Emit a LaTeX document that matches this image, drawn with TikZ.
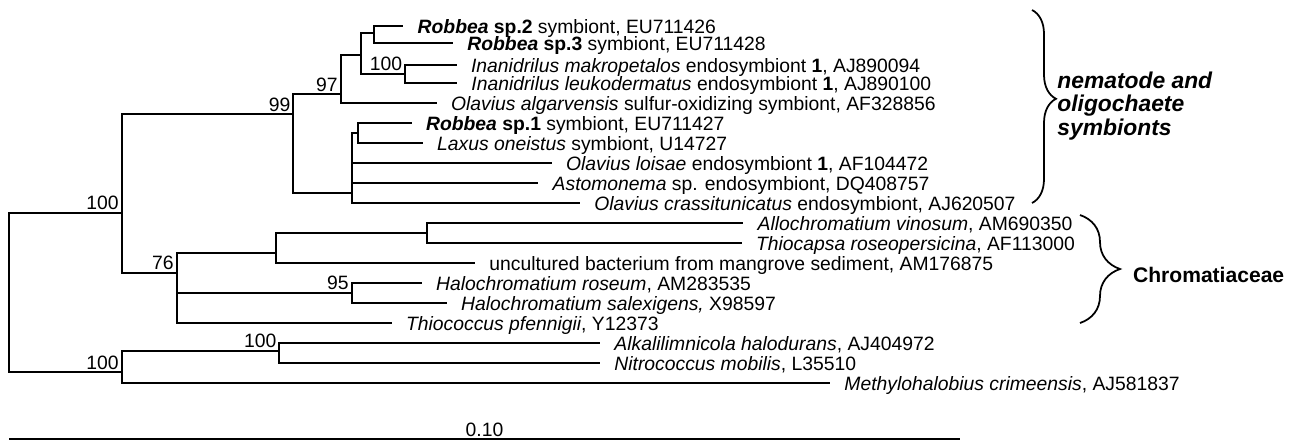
\documentclass[tikz,border=0pt]{standalone}
\usepackage{fontspec}
\setmainfont{Liberation Sans}
\usetikzlibrary{decorations.pathreplacing}

\begin{document}
\begin{tikzpicture}[x=0.02cm, y=-0.02cm,
  branch/.style={line width=1pt},
  leaf/.style={anchor=west, inner xsep=8pt, inner ysep=0pt, text height=10pt,
    text depth=1.5pt, font=\fontsize{11}{13}\selectfont},
  boot/.style={anchor=south east, inner sep=1.5pt, font=\fontsize{11}{13}\selectfont},
  clade/.style={line width=1pt, decorate, decoration={brace, amplitude=#1}},
  group/.style={anchor=west, inner sep=0pt, align=left}]
  \useasboundingbox (0,0) rectangle (1297,441);

  % inner vertices of the tree
  \coordinate (root) at (9,292);
  \coordinate (nA) at (121.7,213);
  \coordinate (n99) at (293.3,114.3);
  \coordinate (n97) at (340.7,94.3);
  \coordinate (nR) at (361,55);
  \coordinate (nR23) at (374,33.3);
  \coordinate (nI) at (405,74);
  \coordinate (nP) at (351.7,192.7);
  \coordinate (nRL) at (357.7,133.3);
  \coordinate (n76) at (176.7,272.7);
  \coordinate (nC) at (275.7,252.7);
  \coordinate (nAT) at (426.7,233.3);
  \coordinate (n95) at (351.7,292.7);
  \coordinate (nO) at (121.7,372.3);
  \coordinate (nAN) at (279.3,351);

  % leaves
  \node[leaf] (rb2) at (403.3,25.7) {\textbf{\textit{Robbea} sp.2} symbiont, EU711426};
  \node[leaf] (rb3) at (453,43.3) {\textbf{\textit{Robbea} sp.3} symbiont, EU711428};
  \node[leaf] (imak) at (456.7,65) {\textit{Inanidrilus makropetalos} endosymbiont \textbf{1}, AJ890094};
  \node[leaf] (ileu) at (457,83.3) {\textit{Inanidrilus leukodermatus} endosymbiont \textbf{1}, AJ890100};
  \node[leaf] (oalg) at (436.7,103.3) {\textit{Olavius algarvensis} sulfur-oxidizing symbiont, AF328856};
  \node[leaf] (rb1) at (411.7,123.3) {\textbf{\textit{Robbea} sp.1} symbiont, EU711427};
  \node[leaf] (lax) at (422.7,143.3) {\textit{Laxus oneistus} symbiont, U14727};
  \node[leaf] (oloi) at (551.7,163.3) {\textit{Olavius loisae} endosymbiont \textbf{1}, AF104472};
  \node[leaf] (asto) at (538.3,183.3) {\textit{Astomonema} sp. endosymbiont, DQ408757};
  \node[leaf] (ocra) at (580,203.3) {\textit{Olavius crassitunicatus} endosymbiont, AJ620507};
  \node[leaf] (allo) at (743.3,223.3) {\textit{Allochromatium vinosum}, AM690350};
  \node[leaf] (tcap) at (741.7,243.3) {\textit{Thiocapsa roseopersicina}, AF113000};
  \node[leaf] (unc) at (475,263.3) {uncultured bacterium from mangrove sediment, AM176875};
  \node[leaf] (hros) at (421.7,282.7) {\textit{Halochromatium roseum}, AM283535};
  \node[leaf] (hsal) at (446.7,303.3) {\textit{Halochromatium salexigens,} X98597};
  \node[leaf] (tpfe) at (391.7,323.3) {\textit{Thiococcus pfennigii}, Y12373};
  \node[leaf] (alka) at (600,343.3) {\textit{Alkalilimnicola halodurans}, AJ404972};
  \node[leaf] (nitr) at (600,362.7) {\textit{Nitrococcus mobilis}, L35510};
  \node[leaf] (meth) at (830,382.7) {\textit{Methylohalobius crimeensis}, AJ581837};

  % branches
  \draw[branch] (root) |- (nA) (root) |- (nO)
    (nA) |- (n99) (nA) |- (n76);
  \draw[branch] (n99) |- (n97) (n99) |- (nP)
    (n97) |- (nR) (n97) |- (oalg.west)
    (nR) |- (nR23) (nR) |- (nI)
    (nR23) |- (rb2.west) (nR23) |- (rb3.west)
    (nI) |- (imak.west) (nI) |- (ileu.west);
  \draw[branch] (nP) |- (nRL) (nP) |- (oloi.west) (nP) |- (asto.west) (nP) |- (ocra.west)
    (nRL) |- (rb1.west) (nRL) |- (lax.west);
  \draw[branch] (n76) |- (nC) (n76) |- (n95) (n76) |- (tpfe.west)
    (nC) |- (nAT) (nC) |- (unc.west)
    (nAT) |- (allo.west) (nAT) |- (tcap.west)
    (n95) |- (hros.west) (n95) |- (hsal.west);
  \draw[branch] (nO) |- (nAN) (nO) |- (meth.west)
    (nAN) |- (alka.west) (nAN) |- (nitr.west);

  % bootstrap values
  \node[boot] (bA) at (nA) {100};
  \node[boot] (b99) at (n99) {99};
  \node[boot] (b97) at (n97) {97};
  \node[boot] (bI) at (nI) {100};
  \node[boot] (b76) at (n76) {76};
  \node[boot] (b95) at (n95) {95};
  \node[boot] (bAN) at (nAN) {100};
  \node[boot] (bO) at (nO) {100};

  % clades
  \coordinate (sym0) at (1032,10);
  \coordinate (sym1) at (1032,203);
  \draw[clade=0.48cm, decoration={aspect=0.46}] (sym0) -- (sym1);
  \node[group, font=\bfseries\itshape\fontsize{13}{13.6}\selectfont] (symlab) at (1057,106)
    {nematode and\\oligochaete\\symbionts};
  \coordinate (chr0) at (1080,215);
  \coordinate (chr1) at (1080,323);
  \draw[clade=0.8cm] (chr0) -- (chr1);
  \node[group, font=\bfseries\fontsize{12}{14}\selectfont] (chrlab) at (1132.7,275) {Chromatiaceae};

  % scale bar
  \coordinate (sb0) at (9,439);
  \coordinate (sb1) at (960,439);
  \draw[branch] (sb0) -- node[above, inner sep=1pt, font=\fontsize{11}{13}\selectfont] (sblab) {0.10} (sb1);
\end{tikzpicture}
\end{document}
